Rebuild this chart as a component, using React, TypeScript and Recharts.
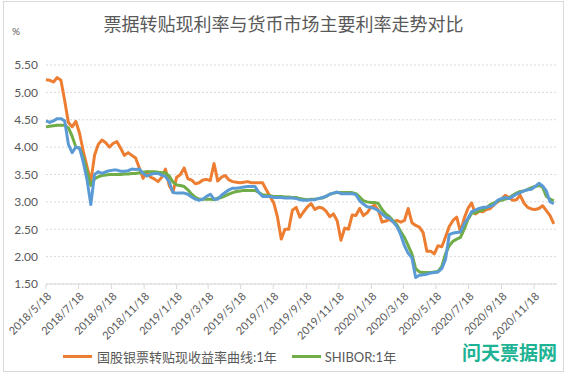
import { LineChart, Line, XAxis, YAxis, CartesianGrid } from 'recharts';

// weekly samples from 2018/5/18
const billRate = [
  5.23, 5.22, 5.19, 5.27, 5.22, 4.85, 4.45, 4.37, 4.47, 4.25,
  3.92, 3.64, 3.37, 3.85, 4.05, 4.13, 4.08, 4.0, 4.07, 4.1,
  3.98, 3.85, 3.9, 3.85, 3.8, 3.62, 3.43, 3.55, 3.45, 3.42,
  3.37, 3.45, 3.6, 3.3, 3.18, 3.45, 3.5, 3.62, 3.42, 3.4,
  3.33, 3.35, 3.4, 3.41, 3.39, 3.7, 3.38, 3.45, 3.48, 3.4,
  3.37, 3.36, 3.35, 3.36, 3.37, 3.35, 3.35, 3.35, 3.35, 3.22,
  3.1, 2.98, 2.72, 2.32, 2.5, 2.5, 2.85, 2.9, 2.72, 2.82,
  2.91, 2.97, 2.86, 2.9, 2.89, 2.83, 2.73, 2.78, 2.65, 2.3,
  2.52, 2.5, 2.76, 2.75, 2.88, 2.75, 2.8, 2.9, 2.94, 2.85,
  2.63, 2.65, 2.68, 2.64, 2.66, 2.63, 2.66, 2.88, 2.62, 2.57,
  2.54, 2.44, 2.1, 2.1, 2.05, 2.2, 2.18, 2.36, 2.55, 2.66,
  2.72, 2.45, 2.7, 2.88, 2.98, 2.78, 2.83, 2.82, 2.86, 2.88,
  2.95, 3.0, 3.05, 3.12, 3.08, 3.03, 3.04, 3.12, 2.98, 2.9,
  2.87, 2.86, 2.88, 2.93, 2.84, 2.75, 2.6,
];

const shibor1y = [
  4.37, 4.38, 4.39, 4.4, 4.4, 4.4, 4.35, 4.2, 4.0, 3.98,
  3.8, 3.55, 3.3, 3.42, 3.46, 3.48, 3.49, 3.5, 3.5, 3.5,
  3.5, 3.51, 3.51, 3.52, 3.52, 3.53, 3.54, 3.55, 3.55, 3.55,
  3.54, 3.53, 3.53, 3.47, 3.36, 3.31, 3.3, 3.28, 3.22, 3.14,
  3.08, 3.05, 3.05, 3.05, 3.05, 3.04, 3.07, 3.08, 3.11, 3.14,
  3.17, 3.19, 3.2, 3.21, 3.21, 3.21, 3.21, 3.17, 3.13, 3.12,
  3.11, 3.1, 3.1, 3.1, 3.09, 3.09, 3.08, 3.08, 3.06, 3.05,
  3.04, 3.05, 3.05, 3.06, 3.07, 3.1, 3.14, 3.16, 3.17, 3.17,
  3.17, 3.17, 3.17, 3.15, 3.09, 3.02, 3.0, 2.99, 2.99, 2.97,
  2.86, 2.78, 2.73, 2.65, 2.58, 2.46, 2.35, 2.2, 2.05, 1.78,
  1.72, 1.71, 1.71, 1.71, 1.72, 1.73, 1.82, 2.05, 2.2, 2.28,
  2.32, 2.35, 2.5, 2.68, 2.79, 2.8, 2.83, 2.85, 2.9, 2.95,
  2.98, 3.02, 3.03, 3.05, 3.07, 3.12, 3.16, 3.19, 3.2, 3.23,
  3.26, 3.28, 3.3, 3.27, 3.1, 3.05, 3.02,
];

const thirdRate = [
  4.48, 4.45, 4.48, 4.52, 4.52, 4.48, 4.05, 3.9, 4.0, 3.98,
  3.72, 3.4, 2.95, 3.5, 3.55, 3.52, 3.55, 3.57, 3.58, 3.58,
  3.56, 3.56, 3.57, 3.6, 3.59, 3.6, 3.52, 3.47, 3.5, 3.52,
  3.52, 3.49, 3.46, 3.37, 3.17, 3.16, 3.16, 3.16, 3.14, 3.09,
  3.05, 3.03, 3.05, 3.1, 3.14, 3.05, 3.05, 3.12, 3.17, 3.22,
  3.25, 3.25, 3.26, 3.27, 3.28, 3.28, 3.28, 3.17, 3.1, 3.1,
  3.1, 3.08, 3.08, 3.08, 3.07, 3.07, 3.07, 3.06, 3.04, 3.03,
  3.03, 3.04, 3.04, 3.06, 3.08, 3.1, 3.14, 3.16, 3.18, 3.15,
  3.15, 3.15, 3.15, 3.13, 3.02, 2.96, 2.91, 2.9, 2.88, 2.84,
  2.78, 2.72, 2.7, 2.63, 2.55, 2.4, 2.2, 2.06, 1.98, 1.62,
  1.66, 1.67, 1.68, 1.7, 1.71, 1.72, 1.78, 1.95, 2.4, 2.43,
  2.44, 2.45, 2.6, 2.7, 2.82, 2.85, 2.88, 2.9, 2.9, 2.92,
  2.95, 3.03, 3.06, 3.08, 3.06, 3.1, 3.14, 3.17, 3.2, 3.22,
  3.23, 3.28, 3.34, 3.29, 3.2, 3.0, 2.97,
];

const tickLabels = [
  '2018/5/18', '2018/7/18', '2018/9/18', '2018/11/18',
  '2019/1/18', '2019/3/18', '2019/5/18', '2019/7/18',
  '2019/9/18', '2019/11/18', '2020/1/18', '2020/3/18',
  '2020/5/18', '2020/7/18', '2020/9/18', '2020/11/18',
];

const yTicks = [1.5, 2, 2.5, 3, 3.5, 4, 4.5, 5, 5.5];

const START = Date.UTC(2018, 4, 18);
const DAY = 86400000;
const toDay = (s: string) => {
  const [y, m, d] = s.split('/').map(Number);
  return Math.round((Date.UTC(y, m - 1, d) - START) / DAY);
};
const xTicks = tickLabels.map(toDay);
const labelOf: Record<number, string> = {};
tickLabels.forEach((l, i) => (labelOf[xTicks[i]] = l));

const data = billRate.map((v, i) => ({
  day: i * 7,
  bill: v,
  shibor: shibor1y[i],
  third: thirdRate[i],
}));

const FONT = 'Lato, "Noto Sans CJK SC", sans-serif';
const GREY = '#595959';

const XTick = ({ x, y, payload }: any) => (
  <g transform={`translate(${x + 6},${y + 6})`}>
    <text x={0} y={0} textAnchor="end" transform="rotate(-45)" fontSize={11} fill={GREY} fontFamily={FONT}>
      {labelOf[payload.value]}
    </text>
  </g>
);

export default function App() {
  return (
    <div style={{ position: 'fixed', left: 0, top: 0, width: 570, height: 376, background: '#fff', fontFamily: FONT }}>
      <div
        style={{
          position: 'absolute', left: 3, top: 1, width: 561, height: 371,
          border: '1px solid #d9d9d9', boxSizing: 'border-box',
        }}
      />
      <div style={{ position: 'absolute', left: 3, top: 10, width: 561, textAlign: 'center', fontSize: 18, color: GREY }}>
        票据转贴现利率与货币市场主要利率走势对比
      </div>
      <div style={{ position: 'absolute', left: 12, top: 25, fontSize: 10, color: GREY }}>%</div>
      <div style={{ position: 'absolute', left: 0, top: 0 }}>
        <LineChart width={570} height={376} data={data} margin={{ top: 65, right: 13, bottom: 32, left: 0 }}>
          <CartesianGrid vertical={false} stroke="#d9d9d9" strokeDasharray="2 2" />
          <XAxis
            dataKey="day"
            type="number"
            domain={[0, 958]}
            ticks={xTicks}
            interval={0}
            height={60}
            tick={<XTick />}
            tickSize={5}
            stroke="#d9d9d9"
            tickLine={{ stroke: '#d9d9d9' }}
          />
          <YAxis
            domain={[1.5, 5.5]}
            ticks={yTicks}
            width={46}
            axisLine={false}
            tickLine={false}
            tickFormatter={(v: number) => v.toFixed(2)}
            tick={{ fontSize: 12, fill: GREY, fontFamily: FONT }}
          />
          <Line dataKey="bill" stroke="#ED7D31" strokeWidth={3} dot={false} isAnimationActive={false} strokeLinejoin="round" />
          <Line dataKey="shibor" stroke="#70AD47" strokeWidth={3} dot={false} isAnimationActive={false} strokeLinejoin="round" />
          <Line dataKey="third" stroke="#5B9BD5" strokeWidth={3} dot={false} isAnimationActive={false} strokeLinejoin="round" />
        </LineChart>
      </div>
      <div style={{ position: 'absolute', left: 63, top: 347, display: 'flex', alignItems: 'center', fontSize: 13, color: GREY, whiteSpace: 'nowrap' }}>
        <span style={{ display: 'inline-block', width: 29, height: 3, background: '#ED7D31', marginRight: 5 }} />
        <span>国股银票转贴现收益率曲线:1年</span>
        <span style={{ display: 'inline-block', width: 29, height: 3, background: '#70AD47', marginLeft: 15, marginRight: 4 }} />
        <span>SHIBOR:1年</span>
      </div>
      <div style={{ position: 'absolute', left: 462, top: 338, fontSize: 19, fontWeight: 'bold', color: '#1db394' }}>
        问天票据网
      </div>
    </div>
  );
}
